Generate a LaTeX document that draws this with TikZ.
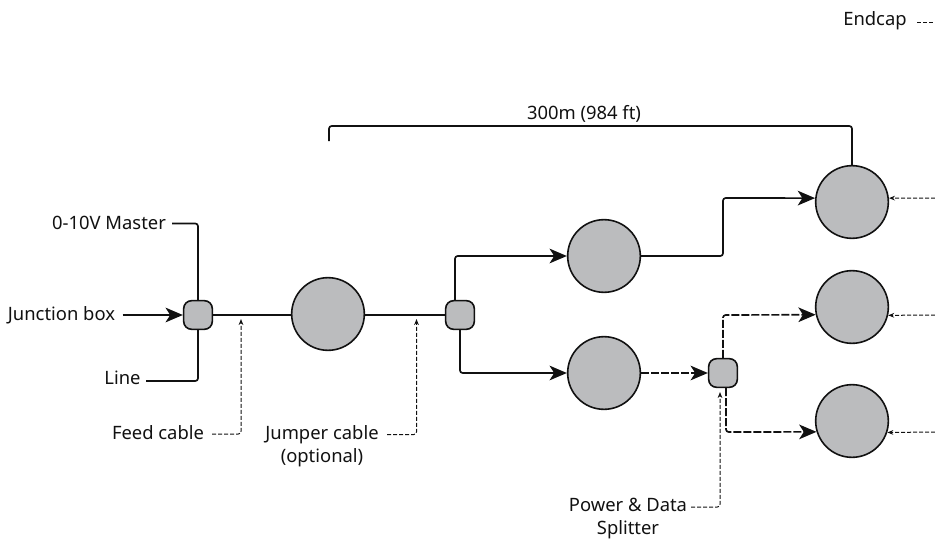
\documentclass[tikz,border=0pt]{standalone}
\usepackage{fontspec}
\setmainfont{Noto Sans}
\usetikzlibrary{arrows.meta}
\definecolor{fillg}{HTML}{BBBCBE}
\definecolor{ink}{HTML}{111111}
\tikzset{
  x=.75pt,y=-.75pt,
  lamp/.style={circle,draw=ink,fill=fillg,line width=1.2pt,minimum size=54.5pt,inner sep=0pt},
  hub/.style={rounded corners=6pt,draw=ink,fill=fillg,line width=1.2pt,minimum size=21.5pt,inner sep=0pt},
  lbl/.style={inner sep=0pt,font=\fontsize{13.8pt}{17.5pt}\selectfont,align=center,text=ink},
  wire/.style={draw=ink,line width=1.25pt,rounded corners=2pt},
  feed/.style={wire,-{Stealth[length=13pt,width=11pt,inset=3.5pt]}},
  note/.style={draw=ink,line width=.75pt,dash pattern=on 3pt off 1.5pt,rounded corners=2pt,-{Stealth[length=4.5pt,width=3.5pt]}},
  notep/.style={note,-},
  dwire/.style={feed,dash pattern=on 6pt off 1.5pt},
}
\begin{document}
\begin{tikzpicture}
\useasboundingbox (0,0) rectangle (935,539);
% devices
\node[hub] (h1) at (198,315) {};
\node[hub] (h2) at (460,315) {};
\node[hub] (h3) at (723,373) {};
\node[lamp] (c0) at (328,314) {};
\node[lamp] (c1) at (604,256) {};
\node[lamp] (c2) at (604,373) {};
\node[lamp] (e1) at (852,202) {};
\node[lamp] (e2) at (852,307) {};
\node[lamp] (e3) at (852,421) {};
% labels
\node[lbl] (master) at (109,223) {0-10V Master};
\node[lbl] (jb) at (61.5,315) {Junction box};
\node[lbl] (line) at (122.5,378) {Line};
\node[lbl] (fc) at (158,433) {Feed cable};
\node[lbl,anchor=north] (jc) at (322,425) {Jumper cable\\(optional)};
\node[lbl,anchor=north] (pd) at (628,497.5) {Power \& Data\\Splitter};
\node[lbl] (span) at (584,114) {300m (984 ft)};
\node[lbl] (ec) at (875,21) {Endcap};
% free ends
\coordinate (br) at (329,141);
\coordinate (fcTip) at (241,319);
\coordinate (jcTip) at (416.5,319);
\coordinate (pdTip) at (720,392);
\coordinate (r1) at (935,198);
\coordinate (r2) at (935,315);
\coordinate (r3) at (935,432);
\coordinate (ecEnd) at (935,22);
% solid wiring
\draw[wire] (172,223.5) -| (h1.north);
\draw[wire] (146,381) -| (h1.south);
\draw[feed] ([xshift=5.5pt]jb.east) -- (h1.west);
\draw[wire] (h1.east) -- (c0.west |- h1.east);
\draw[wire] (c0.east |- h2.west) -- (h2.west);
\draw[feed] (455,300) |- (c1.west);
\draw[feed] (h2.south) |- (c2.west);
\draw[feed] (c1.east) -- (723,256) -- (723,198) -- (e1.174);
\draw[wire] (br) -- (329,126) -- (852,126) -- (e1.north);
% dashed wiring
\draw[dwire] (c2.east) -- (h3.west);
\draw[dwire] (h3.north) -- (723,315) -- (e2.192.5);
\draw[dwire] (726,388) -- (726,432) -- (e3.197.3);
% notes
\draw[note] (212,434) -- (241,434) -- (fcTip);
\draw[note] (387,434.5) -- (416.5,434.5) -- (jcTip);
\draw[note] (691,507) -- (720,507) -- (pdTip);
\draw[note] (r1) -- (e1.6);
\draw[note] (r2) -- (e2.347.5);
\draw[note] (r3) -- (e3.342.7);
\draw[notep] (917,22) -- (ecEnd);
\end{tikzpicture}
\end{document}
